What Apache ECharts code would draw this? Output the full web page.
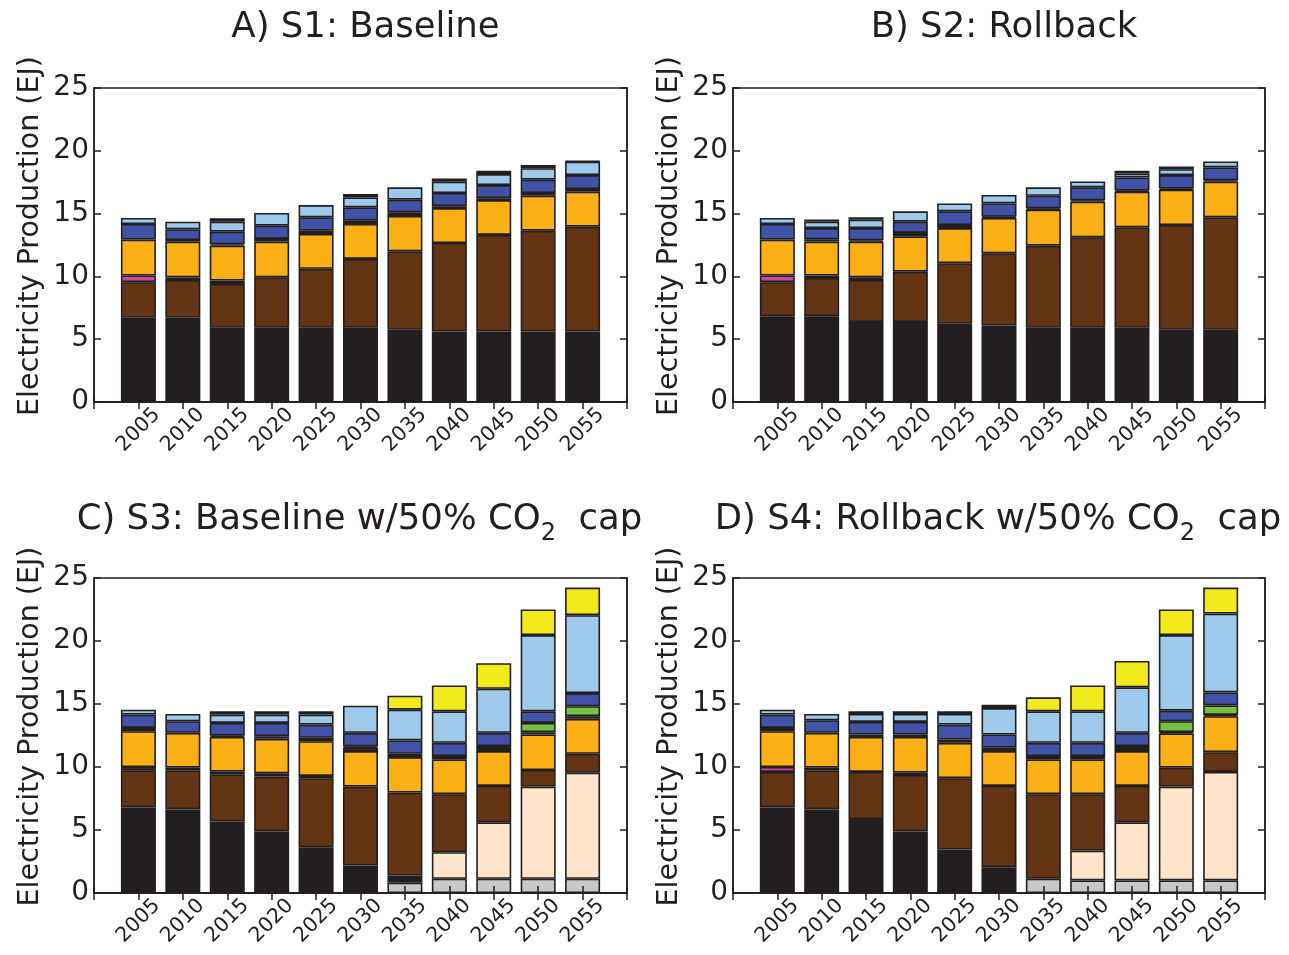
<!DOCTYPE html>
<html><head><meta charset="utf-8">
<script src="https://cdn.jsdelivr.net/npm/echarts@6/dist/echarts.min.js"></script>
<style>html,body{margin:0;padding:0;background:#fff}#c{width:1289px;height:955px}</style>
</head><body><div id="c"></div>
<script>
// Category (tick) labels
const years = ['2000','2005','2010','2015','2020','2025','2030','2035','2040','2045','2050','2055','2060'];
const panelTitles = ['A) S1: Baseline', 'B) S2: Rollback', 'C) S3: Baseline w/50% CO', 'D) S4: Rollback w/50% CO'];
const yTicks = [0, 5, 10, 15, 20, 25];

// Layer names (bottom to top) and colours
const layerNames = ['Coal CCS','Gas CCS','Coal','Gas','Oil','Nuclear','Oil CCS','Biomass','Geothermal','Hydro','Wind','Solar','Other'];
const layerColors = ['#c7c8ca','#fde4cb','#231f20','#643514','#d6479b','#fbb116','#d42a28','#231f20','#77c043','#4252a6','#9ec9eb','#f2ea1b','#231f20'];

// Panel A: S1 Baseline (EJ, 2005..2055)
const A_ccsCoal = [0,0,0,0,0,0,0,0,0,0,0];
const A_ccsGas  = [0,0,0,0,0,0,0,0,0,0,0];
const A_coal    = [6.70,6.70,5.91,5.91,5.91,5.91,5.75,5.62,5.62,5.62,5.62];
const A_gas     = [2.84,3.02,3.49,4.02,4.69,5.48,6.25,7.04,7.68,8.02,8.34];
const A_oil     = [0.53,0.20,0.27,0,0,0,0,0,0,0,0];
const A_nuclear = [2.86,2.84,2.78,2.84,2.78,2.78,2.81,2.78,2.78,2.78,2.78];
const A_oilCcs  = [0,0,0,0,0,0,0,0,0,0,0];
const A_bio     = [0,0.13,0.10,0.21,0.26,0.27,0.29,0.15,0.15,0.22,0.21];
const A_geo     = [0,0,0,0,0,0,0,0,0,0,0];
const A_hydro   = [1.24,0.85,1.01,1.06,1.06,1.06,1.01,1.05,1.04,1.06,1.12];
const A_wind    = [0.48,0.61,0.80,1.01,0.98,0.79,0.98,0.90,0.88,0.92,1.06];
const A_solar   = [0,0,0,0,0,0,0,0,0,0,0];
const A_other   = [0,0,0.26,0,0,0.27,0,0.26,0.26,0.24,0.05];

// Panel B: S2 Rollback
const B_ccsCoal = [0,0,0,0,0,0,0,0,0,0,0];
const B_ccsGas  = [0,0,0,0,0,0,0,0,0,0,0];
const B_coal    = [6.83,6.83,6.36,6.36,6.23,6.09,5.91,5.91,5.91,5.75,5.75];
const B_gas     = [2.71,3.05,3.36,4.02,4.82,5.75,6.54,7.20,8.00,8.34,8.95];
const B_oil     = [0.53,0.19,0.21,0,0,0,0,0,0,0,0];
const B_nuclear = [2.86,2.70,2.84,2.81,2.80,2.81,2.86,2.84,2.83,2.81,2.84];
const B_oilCcs  = [0,0,0,0,0,0,0,0,0,0,0];
const B_bio     = [0,0.18,0.10,0.27,0.24,0.10,0.10,0.10,0.10,0.10,0.10];
const B_geo     = [0,0,0,0,0,0,0,0,0,0,0];
const B_hydro   = [1.24,0.90,0.98,0.90,1.09,1.06,1.01,1.04,1.04,1.07,1.04];
const B_wind    = [0.48,0.51,0.67,0.82,0.63,0.67,0.67,0.47,0.32,0.47,0.47];
const B_solar   = [0,0,0,0,0,0,0,0,0,0,0];
const B_other   = [0,0.18,0.18,0,0,0,0,0,0.21,0.21,0];

// Panel C: S3 Baseline w/50% CO2 cap
const C_ccsCoal = [0,0,0,0,0,0,0.82,1.13,1.13,1.13,1.13];
const C_ccsGas  = [0,0,0,0,0,0,0,2.11,4.48,7.32,8.42];
const C_coal    = [6.79,6.63,5.68,4.89,3.63,2.18,0.57,0,0,0,0];
const C_gas     = [2.95,3.11,3.74,4.35,5.48,6.27,6.58,4.60,2.89,1.31,1.50];
const C_oil     = [0.26,0.21,0.21,0.26,0.18,0,0,0,0,0,0];
const C_nuclear = [2.84,2.76,2.76,2.74,2.76,2.81,2.82,2.77,2.76,2.82,2.77];
const C_oilCcs  = [0,0,0,0,0,0.27,0,0,0,0,0];
const C_bio     = [0.26,0,0.10,0.21,0.27,0.10,0.26,0.26,0.40,0.18,0.21];
const C_geo     = [0,0,0,0,0,0,0,0,0,0.74,0.79];
const C_hydro   = [1.06,0.92,1.01,1.05,1.05,1.08,1.06,1.05,1.05,0.92,1.05];
const C_wind    = [0.39,0.58,0.66,0.66,0.79,2.16,2.44,2.50,3.50,6.05,6.18];
const C_solar   = [0,0,0,0,0,0,1.11,2.05,2.03,2.03,2.19];
const C_other   = [0,0,0.26,0.26,0.26,0,0,0,0,0,0];

// Panel D: S4 Rollback w/50% CO2 cap
const D_ccsCoal = [0,0,0,0,0,0,1.13,1.00,1.00,1.00,1.00];
const D_ccsGas  = [0,0,0,0,0,0,0,2.37,4.61,7.45,8.61];
const D_coal    = [6.79,6.63,5.87,4.89,3.45,2.05,0,0,0,0,0];
const D_gas     = [2.82,3.11,3.74,4.48,5.66,6.45,6.71,4.47,2.89,1.50,1.57];
const D_oil     = [0.39,0.21,0,0.18,0,0,0,0,0,0,0];
const D_nuclear = [2.84,2.76,2.78,2.84,2.81,2.76,2.77,2.77,2.76,2.71,2.85];
const D_oilCcs  = [0,0,0,0,0.26,0,0,0,0,0,0];
const D_bio     = [0.26,0,0.19,0.19,0,0.27,0.26,0.26,0.40,0.10,0.10];
const D_geo     = [0,0,0,0,0,0,0,0,0,0.87,0.76];
const D_hydro   = [1.06,1.00,1.00,1.00,1.19,1.05,1.05,1.05,1.05,0.84,1.03];
const D_wind    = [0.39,0.50,0.63,0.63,0.84,2.10,2.50,2.50,3.61,6.00,6.26];
const D_solar   = [0,0,0,0,0,0,1.11,2.05,2.10,2.03,2.06];
const D_other   = [0,0,0.21,0.21,0.21,0.27,0,0,0,0,0];

const panels = [
  [A_ccsCoal,A_ccsGas,A_coal,A_gas,A_oil,A_nuclear,A_oilCcs,A_bio,A_geo,A_hydro,A_wind,A_solar,A_other],
  [B_ccsCoal,B_ccsGas,B_coal,B_gas,B_oil,B_nuclear,B_oilCcs,B_bio,B_geo,B_hydro,B_wind,B_solar,B_other],
  [C_ccsCoal,C_ccsGas,C_coal,C_gas,C_oil,C_nuclear,C_oilCcs,C_bio,C_geo,C_hydro,C_wind,C_solar,C_other],
  [D_ccsCoal,D_ccsGas,D_coal,D_gas,D_oil,D_nuclear,D_oilCcs,D_bio,D_geo,D_hydro,D_wind,D_solar,D_other]
];

const FONT = 'DejaVu Sans';
const TXT = '#231f20';
const grids = [
  {left: 94, top: 88, width: 533, height: 314},
  {left: 733, top: 88, width: 532, height: 314},
  {left: 94, top: 578, width: 533, height: 315},
  {left: 733, top: 578, width: 532, height: 315}
];

const option = {
  backgroundColor: '#fff',
  animation: false,
  title: [], grid: [], xAxis: [], yAxis: [], series: []
};

grids.forEach((g, i) => {
  option.grid.push(Object.assign({show: true, borderColor: TXT, borderWidth: 1.5, backgroundColor: 'transparent'}, g));
  const cx = g.left + g.width / 2;
  const isCap = i >= 2;
  option.title.push({
    text: isCap ? '{t|' + panelTitles[i] + '}{s|2}{t|  cap}' : '{t|' + panelTitles[i] + '}',
    left: isCap ? cx - 6 : cx, top: isCap ? 489 : 5, textAlign: 'center',
    textStyle: {
      fontWeight: 'normal',
      rich: {
        t: {fontFamily: FONT, fontSize: 35.5, fontWeight: 'normal', color: TXT},
        s: {fontFamily: FONT, fontSize: 24, fontWeight: 'normal', color: TXT, padding: [28, 0, 0, 0]}
      }
    }
  });
  const xCommon = {
    type: 'category', gridIndex: i, data: years, boundaryGap: false, z: 10,
    axisLine: {show: true, lineStyle: {color: TXT, width: 1.5}},
    axisTick: {show: true, inside: true, length: 7, interval: 0, lineStyle: {color: TXT, width: 1.5}},
    splitLine: {show: false}
  };
  option.xAxis.push(Object.assign({}, xCommon, {
    position: 'bottom',
    axisLabel: {show: true, interval: 0, rotate: 45, align: 'center', verticalAlign: 'middle', margin: 28,
      fontFamily: FONT, fontSize: 20.5, color: TXT,
      formatter: v => (v === '2000' || v === '2060') ? '' : v}
  }));
  option.xAxis.push(Object.assign({}, xCommon, {position: 'top', axisLabel: {show: false}}));
  const yCommon = {
    type: 'value', gridIndex: i, min: yTicks[0], max: yTicks[yTicks.length - 1], interval: yTicks[1] - yTicks[0], z: 10,
    axisLine: {show: true, lineStyle: {color: TXT, width: 1.5}},
    axisTick: {show: true, inside: true, length: 7, lineStyle: {color: TXT, width: 1.5}},
    splitLine: {show: false}
  };
  option.yAxis.push(Object.assign({}, yCommon, {
    position: 'left',
    name: 'Electricity Production (EJ)', nameLocation: 'middle', nameGap: 49,
    nameTextStyle: {fontFamily: FONT, fontSize: 28.5, color: TXT, padding: [0, 0, 0, 18]},
    axisLabel: {show: true, margin: 5, fontFamily: FONT, fontSize: 28, color: TXT}
  }));
  option.yAxis.push(Object.assign({}, yCommon, {position: 'right', axisLabel: {show: false}}));

  panels[i].forEach((arr, k) => {
    const data = ['-'].concat(arr.map(v => v > 0 ? v : '-')).concat(['-']);
    option.series.push({
      type: 'bar', name: layerNames[k], stack: 'p' + i,
      xAxisIndex: 2 * i, yAxisIndex: 2 * i,
      barWidth: 35, data: data,
      itemStyle: {color: layerColors[k], borderColor: TXT, borderWidth: 1.6}
    });
  });
});

const chart = echarts.init(document.getElementById('c'), null, {renderer: 'canvas'});
chart.setOption(option);
</script>
</body></html>
